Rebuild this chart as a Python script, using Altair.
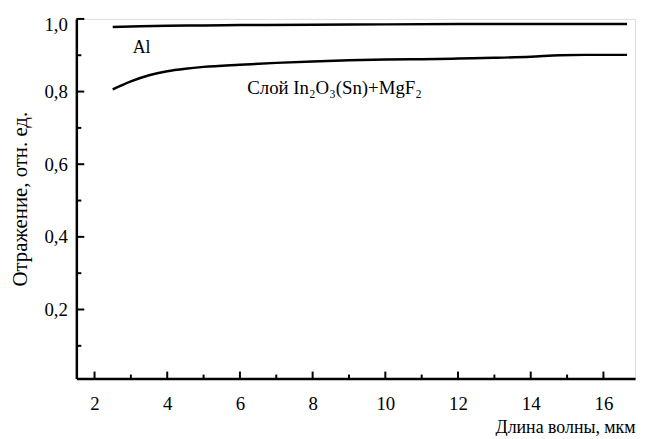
import altair as alt
import pandas as pd

# --- data ---
al_x = [2.5, 3, 4, 5, 6, 8, 10, 12, 14, 16.65]
al_y = [0.978, 0.979, 0.981, 0.982, 0.983, 0.984, 0.985, 0.986, 0.986, 0.986]

layer_x = [2.5, 3, 3.5, 4, 4.5, 5, 6, 7, 8, 9, 10, 11, 12, 13, 14, 14.8, 15.5, 16.65]
layer_y = [0.806, 0.828, 0.845, 0.856, 0.863, 0.868, 0.874, 0.879, 0.883, 0.886,
           0.888, 0.889, 0.891, 0.893, 0.896, 0.900, 0.901, 0.901]

x_major = [2, 4, 6, 8, 10, 12, 14, 16]
x_minor = [3, 5, 7, 9, 11, 13, 15]
y_major = [0.2, 0.4, 0.6, 0.8, 1.0]
y_minor = [0.1, 0.3, 0.5, 0.7, 0.9]

label_text = ["Al", "Слой In₂O₃(Sn)+MgF₂"]
label_x = [3.05, 6.2]
label_y = [0.92, 0.81]
label_size = [18, 19]

FONT = "'Times New Roman', 'Liberation Serif', serif"
W, H = 564, 363

df = pd.concat([
    pd.DataFrame({"x": al_x, "y": al_y, "s": "Al"}),
    pd.DataFrame({"x": layer_x, "y": layer_y, "s": "Layer"}),
])

xs = alt.Scale(domain=[1.5, 16.87], nice=False, zero=False)
ys = alt.Scale(domain=[0.01, 1.0], nice=False, zero=False)

base = alt.Chart(df).mark_line(color="black", strokeWidth=2.5, interpolate="monotone").encode(
    x=alt.X("x:Q", scale=xs,
            axis=alt.Axis(values=x_major, ticks=False, grid=False, labelPadding=16,
                          title="Длина волны, мкм", titleAnchor="end", titlePadding=6,
                          labelFontSize=19, titleFontSize=18, labelFont=FONT, titleFont=FONT,
                          domainColor="black", domainWidth=2.5, labelColor="black",
                          titleColor="black", titleFontWeight="normal")),
    y=alt.Y("y:Q", scale=ys,
            axis=alt.Axis(values=y_major, ticks=False, grid=False, labelPadding=9,
                          labelFlush=True, labelFlushOffset=3,
                          labelExpr="replace(format(datum.value, '.1f'), '.', ',')",
                          title="Отражение, отн. ед.", titlePadding=14,
                          labelFontSize=19, titleFontSize=21, labelFont=FONT, titleFont=FONT,
                          domainColor="black", domainWidth=2.5, labelColor="black",
                          titleColor="black", titleFontWeight="normal")),
    detail="s:N",
)

xmaj = alt.Chart(pd.DataFrame({"v": x_major})).mark_rule(color="black", strokeWidth=2).encode(
    x=alt.X("v:Q", scale=xs), y=alt.value(H), y2=alt.value(H - 7))
xmin = alt.Chart(pd.DataFrame({"v": x_minor})).mark_rule(color="black", strokeWidth=2).encode(
    x=alt.X("v:Q", scale=xs), y=alt.value(H), y2=alt.value(H - 4))
ymaj = alt.Chart(pd.DataFrame({"v": y_major})).mark_rule(color="black", strokeWidth=2).encode(
    y=alt.Y("v:Q", scale=ys), x=alt.value(0), x2=alt.value(8))
ymin = alt.Chart(pd.DataFrame({"v": y_minor})).mark_rule(color="black", strokeWidth=2).encode(
    y=alt.Y("v:Q", scale=ys), x=alt.value(0), x2=alt.value(5))

labels = alt.Chart(pd.DataFrame({"t": label_text, "x": label_x, "y": label_y, "fs": label_size})).mark_text(
    font=FONT, align="left", baseline="middle", color="black").encode(
    x=alt.X("x:Q", scale=xs), y=alt.Y("y:Q", scale=ys), text="t:N",
    size=alt.Size("fs:Q", scale=None, legend=None))

chart = alt.layer(base, xmaj, xmin, ymaj, ymin, labels).properties(
    width=W, height=H,
    autosize=alt.AutoSizeParams(type="none"),
    padding={"left": 69, "top": 9, "right": 6, "bottom": 56},
).configure_view(stroke=None).configure(background="white")

chart.save("out.html", embed_options={"renderer": "svg", "actions": False})
